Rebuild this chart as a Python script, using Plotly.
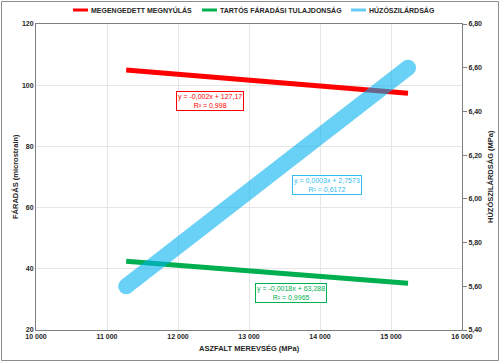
import plotly.graph_objects as go

# Data
x_stiffness = [11270, 15240]
allowed_strain = [105.0, 97.4]
fatigue = [42.5, 35.3]
tensile = [5.60, 6.60]

series_names = ["MEGENGEDETT MEGNYÚLÁS", "TARTÓS FÁRADÁSI TULAJDONSÁG", "HÚZÓSZILÁRDSÁG"]
series_colors = ["#FF0000", "#00B050", "#00B0F0"]

eq_texts = ["y = -0,002x + 127,17<br>R² = 0,998",
            "y = 0,0003x + 2,7573<br>R² = 0,6172",
            "y = -0,0018x + 63,288<br>R² = 0,9965"]
eq_pos = [(12450, 95.0), (14105, 67.5), (13590, 32.1)]
eq_colors = ["#FF0000", "#33BBEE", "#00B050"]

x_ticks = [10000, 11000, 12000, 13000, 14000, 15000, 16000]
y_left_ticks = [20, 40, 60, 80, 100, 120]
y_right_ticks = [5.4, 5.6, 5.8, 6.0, 6.2, 6.4, 6.6, 6.8]

x_title = "ASZFALT MEREVSÉG (MPa)"
y_title = "FÁRADÁS (microstrain)"
y2_title = "HÚZÓSZILÁRDSÁG (MPa)"

FONT = "Liberation Sans, Arial, sans-serif"
TXT = "#262626"

fig = go.Figure()
fig.add_trace(go.Scatter(x=x_stiffness, y=allowed_strain, mode="lines",
                         line=dict(color=series_colors[0], width=5), name=series_names[0], showlegend=False))
fig.add_trace(go.Scatter(x=x_stiffness, y=fatigue, mode="lines",
                         line=dict(color=series_colors[1], width=5), name=series_names[1], showlegend=False))
fig.add_trace(go.Scatter(x=x_stiffness, y=tensile, mode="lines+markers", yaxis="y2", opacity=0.58,
                         line=dict(color=series_colors[2], width=16),
                         marker=dict(size=16, color=series_colors[2], line=dict(width=0)),
                         name=series_names[2], showlegend=False))

# Equation boxes
for txt, (ex, ey), c in zip(eq_texts, eq_pos, eq_colors):
    fig.add_annotation(x=ex, y=ey, xref="x", yref="y", text=txt, showarrow=False,
                       font=dict(family=FONT, size=7, color=c), bordercolor=c, borderwidth=1,
                       borderpad=1, bgcolor="white", align="center")

W, H, L, T, R, B = 500, 362, 36, 24, 38, 32
pw, ph = W - L - R, H - T - B
def px(x): return (x - L) / pw
def py(y): return 1 - (y - T) / ph

tickfont = dict(family=FONT, size=7, color=TXT, weight="bold")
titlefont = dict(family=FONT, size=7.5, color=TXT, weight="bold")

# Custom legend
leg_x0 = [73, 202, 351]
leg_y = 10
for name, col, x0 in zip(series_names, ["#FF0000", "#00B050", "#66CCF5"], leg_x0):
    fig.add_shape(type="line", xref="paper", yref="paper", x0=px(x0), x1=px(x0 + 15),
                  y0=py(leg_y), y1=py(leg_y), line=dict(color=col, width=3))
    fig.add_annotation(xref="paper", yref="paper", x=px(x0 + 16), y=py(leg_y), text=name,
                       showarrow=False, xanchor="left", yanchor="middle",
                       font=dict(family=FONT, size=7, color=TXT, weight="bold"))

# Axis titles
fig.add_annotation(xref="paper", yref="paper", x=px(249), y=py(348), text=x_title, showarrow=False,
                   xanchor="center", yanchor="middle", font=titlefont)
fig.add_annotation(xref="paper", yref="paper", x=px(15), y=py(177), text=y_title, showarrow=False,
                   textangle=-90, xanchor="center", yanchor="middle", font=titlefont)
fig.add_annotation(xref="paper", yref="paper", x=px(490), y=py(177), text=y2_title, showarrow=False,
                   textangle=-90, xanchor="center", yanchor="middle", font=titlefont)

# Outer border
fig.add_shape(type="rect", xref="paper", yref="paper", x0=px(1.5), x1=px(W - 1.5),
              y0=py(1.5), y1=py(H - 1.5), line=dict(color="#8C8C8C", width=1))

fig.update_layout(
    width=W, height=H, margin=dict(l=L, r=R, t=T, b=B, autoexpand=False),
    paper_bgcolor="white", plot_bgcolor="white",
    separators=", ",
    xaxis=dict(range=[10000, 16000], tickvals=x_ticks, tickformat=",d", showgrid=True,
               gridcolor="#E6E6E6", gridwidth=1, showline=True, linecolor="#7F7F7F", linewidth=1,
               mirror=True, zeroline=False, ticks="", tickfont=tickfont, automargin=False),
    yaxis=dict(range=[20, 120], tickvals=y_left_ticks, showgrid=True, gridcolor="#E6E6E6",
               showline=True, linecolor="#7F7F7F", linewidth=1, mirror=True, zeroline=False,
               ticks="", tickfont=tickfont, automargin=False),
    yaxis2=dict(range=[5.4, 6.8], tickvals=y_right_ticks, tickformat=".2f", overlaying="y",
                side="right", showgrid=False, showline=True, linecolor="#7F7F7F", linewidth=1,
                zeroline=False, ticks="outside", ticklen=4, tickcolor="#7F7F7F", tickfont=tickfont,
                automargin=False),
)

fig.write_html("out.html", config={"displayModeBar": False},
               post_script="document.body.style.margin='0px';document.body.style.overflow='hidden';")
